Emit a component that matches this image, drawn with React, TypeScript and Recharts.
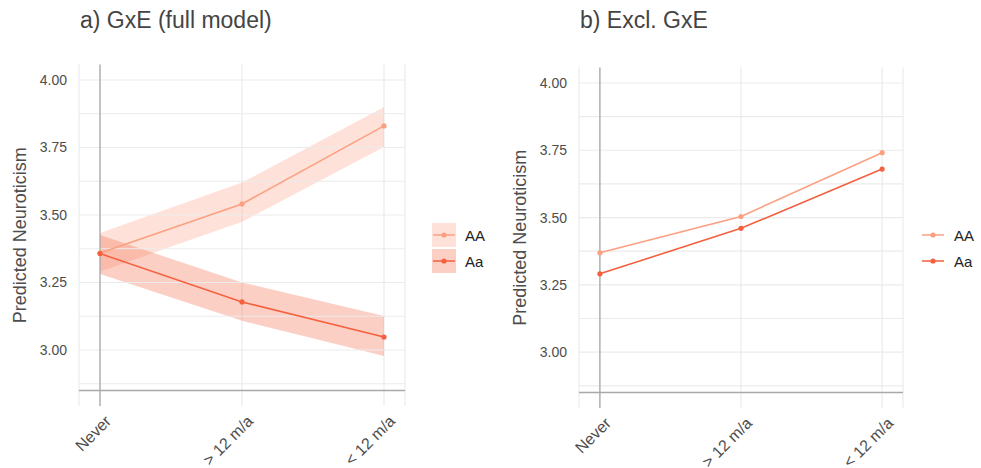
import React from "react";
import {
  ComposedChart,
  Area,
  Line,
  XAxis,
  YAxis,
  CartesianGrid,
  ReferenceLine,
  Legend,
} from "recharts";

const categories = ["Never", "> 12 m/a", "< 12 m/a"];

// a) full model (GxE)
const fullAA = [3.359, 3.541, 3.83];
const fullAALow = [3.29, 3.475, 3.752];
const fullAAHigh = [3.433, 3.62, 3.9];
const fullAa = [3.357, 3.178, 3.048];
const fullAaLow = [3.281, 3.108, 2.978];
const fullAaHigh = [3.426, 3.25, 3.126];

// b) excl. GxE
const exclAA = [3.369, 3.504, 3.741];
const exclAa = [3.291, 3.46, 3.68];

const majorTicks = [3.0, 3.25, 3.5, 3.75, 4.0];
const gridTicks = [2.875, 3.0, 3.125, 3.25, 3.375, 3.5, 3.625, 3.75, 3.875, 4.0];

const colAA = "#FCA082";
const colAa = "#F5603F";
const FONT = "'Liberation Sans', Arial, sans-serif";
const TXT = "#4d4d4d";

const fullData = categories.map((c, i) => ({
  x: i,
  aa: fullAA[i],
  aaRange: [fullAALow[i], fullAAHigh[i]],
  aA: fullAa[i],
  aARange: [fullAaLow[i], fullAaHigh[i]],
}));

const exclData = categories.map((c, i) => ({
  x: i,
  aa: exclAA[i],
  aA: exclAa[i],
}));

function XTick(props: any) {
  const { x, y, payload } = props;
  const ax = x + 4;
  const ay = y + 8;
  return (
    <text
      x={ax}
      y={ay}
      dy="0.72em"
      textAnchor="end"
      transform={`rotate(-45 ${ax} ${ay})`}
      fontSize={16}
      fill={TXT}
      fontFamily={FONT}
    >
      {categories[payload.value]}
    </text>
  );
}

function LegendBox({ ribbon }: { ribbon: boolean }) {
  const items = [
    { name: "AA", color: colAA },
    { name: "Aa", color: colAa },
  ];
  return (
    <div style={{ fontFamily: FONT, fontSize: 15, color: "#222" }}>
      {items.map((it) => (
        <div key={it.name} style={{ display: "flex", alignItems: "center", height: 26 }}>
          <svg width={24} height={24} style={{ marginRight: 9 }}>
            {ribbon && (
              <rect x={0} y={0} width={24} height={24} fill={it.color} fillOpacity={0.3} />
            )}
            <line x1={1} x2={23} y1={12} y2={12} stroke={it.color} strokeWidth={1.5} />
            <circle cx={12} cy={12} r={2.6} fill={it.color} />
          </svg>
          <span>{it.name}</span>
        </div>
      ))}
    </div>
  );
}

interface PanelProps {
  title: string;
  data: any[];
  ribbon: boolean;
  width: number;
  left: number;
  top: number;
  bottom: number;
  right: number;
  axisWidth: number;
  labelX: number;
  legendLeft: number;
}

function Panel(p: PanelProps) {
  return (
    <div style={{ position: "absolute", left: p.left, top: 0, width: p.width, height: 468 }}>
      <div
        style={{
          position: "absolute",
          left: p.labelX + 60,
          top: 7,
          fontFamily: FONT,
          fontSize: 23,
          color: "#444",
          whiteSpace: "nowrap",
        }}
      >
        {p.title}
      </div>
      <ComposedChart
        width={p.width}
        height={468}
        data={p.data}
        margin={{ top: p.top, right: p.right, bottom: 0, left: 0 }}
      >
        <CartesianGrid stroke="#ebebeb" strokeWidth={1.2} horizontal={false} />
        {gridTicks.map((t) => (
          <ReferenceLine key={t} y={t} stroke="#ebebeb" strokeWidth={1.2} />
        ))}
        <XAxis
          type="number"
          dataKey="x"
          domain={[-0.148, 2.148]}
          ticks={[0, 1, 2]}
          allowDataOverflow
          axisLine={false}
          tickLine={false}
          tickSize={0}
          tickMargin={0}
          height={p.bottom}
          tick={<XTick />}
        />
        <YAxis
          type="number"
          domain={[2.7925, 4.0575]}
          ticks={gridTicks}
          allowDataOverflow
          axisLine={false}
          tickLine={false}
          width={p.axisWidth}
          tickMargin={6}
          tick={{ fontSize: 14, fill: TXT, fontFamily: FONT }}
          tickFormatter={(v: number) => (majorTicks.includes(v) ? v.toFixed(2) : "")}
          label={{
            content: (lp: any) => {
              const vb = lp.viewBox || { y: 0, height: 0 };
              const cy = vb.y + vb.height / 2;
              return (
                <text
                  x={p.labelX}
                  y={cy}
                  transform={`rotate(-90 ${p.labelX} ${cy})`}
                  textAnchor="middle"
                  dominantBaseline="central"
                  fontSize={18}
                  fill={TXT}
                  fontFamily={FONT}
                >
                  Predicted Neuroticism
                </text>
              );
            },
          }}
        />
        {p.ribbon && (
          <Area
            dataKey="aaRange"
            type="linear"
            stroke="none"
            fill={colAA}
            fillOpacity={0.3}
            isAnimationActive={false}
            legendType="none"
          />
        )}
        {p.ribbon && (
          <Area
            dataKey="aARange"
            type="linear"
            stroke="none"
            fill={colAa}
            fillOpacity={0.3}
            isAnimationActive={false}
            legendType="none"
          />
        )}
        <ReferenceLine x={0} stroke="#a9a9a9" strokeWidth={1.3} />
        <ReferenceLine y={2.85} stroke="#a9a9a9" strokeWidth={1.3} />
        <Line
          dataKey="aa"
          name="AA"
          type="linear"
          stroke={colAA}
          strokeWidth={1.6}
          dot={{ r: 2.6, fill: colAA, stroke: "none" }}
          activeDot={false}
          isAnimationActive={false}
        />
        <Line
          dataKey="aA"
          name="Aa"
          type="linear"
          stroke={colAa}
          strokeWidth={1.6}
          dot={{ r: 2.6, fill: colAa, stroke: "none" }}
          activeDot={false}
          isAnimationActive={false}
        />
        <Legend
          layout="horizontal"
          verticalAlign="middle"
          align="center"
          wrapperStyle={{ left: p.legendLeft, top: 222, width: 60 }}
          content={() => <LegendBox ribbon={p.ribbon} />}
        />
      </ComposedChart>
    </div>
  );
}

export default function App() {
  return (
    <div
      style={{
        position: "absolute",
        left: 0,
        top: 0,
        width: 981,
        height: 468,
        background: "#fff",
        overflow: "hidden",
      }}
    >
      <Panel
        title="a) GxE (full model)"
        data={fullData}
        ribbon
        width={490}
        left={0}
        top={64.5}
        bottom={62}
        right={85}
        axisWidth={79}
        labelX={20}
        legendLeft={432}
      />
      <Panel
        title="b) Excl. GxE"
        data={exclData}
        ribbon={false}
        width={491}
        left={490}
        top={67.5}
        bottom={60}
        right={78}
        axisWidth={89}
        labelX={30}
        legendLeft={431}
      />
    </div>
  );
}
